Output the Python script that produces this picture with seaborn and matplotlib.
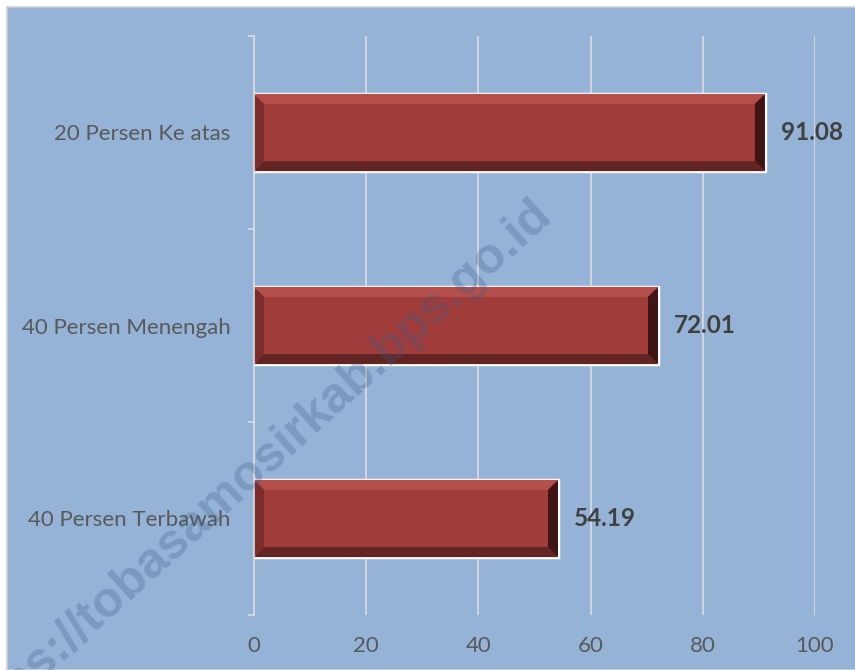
import matplotlib
matplotlib.use("Agg")
import matplotlib.pyplot as plt
from matplotlib.patches import Rectangle, Polygon
import seaborn as sns
import pandas as pd

# data
categories = ["20 Persen Ke atas", "40 Persen Menengah", "40 Persen Terbawah"]
values = [91.08, 72.01, 54.19]
x_ticks = [0, 20, 40, 60, 80, 100]

BG = "#95B3D7"
FACE = "#A03D3B"
GRID = "#DCDCDC"

sns.set_style("white")
plt.rcParams["font.family"] = ["Lato", "DejaVu Sans"]

df = pd.DataFrame({"kelompok": categories, "nilai": values})

fig = plt.figure(figsize=(8.55, 6.70), dpi=100, facecolor="white")
fig.patches.append(Rectangle((7 / 855, 0), 1, 1 - 7 / 670, transform=fig.transFigure,
                             facecolor=BG, edgecolor="#D0D0D0", linewidth=1.2, zorder=-10))
ax = fig.add_axes([254 / 855, 1 - 615 / 670, (815 - 254) / 855, (615 - 36) / 670])
ax.set_facecolor("none")

sns.barplot(data=df, x="nilai", y="kelompok", order=categories, color=FACE,
            saturation=1, width=0.4, edgecolor="white", linewidth=2.5, ax=ax, zorder=3)

ax.set_xlim(0, 100)
ax.set_ylim(2.5, -0.5)
ax.set_xticks(x_ticks)
ax.set_xticklabels([str(t) for t in x_ticks])
ax.grid(axis="x", color=GRID, linewidth=1.2, zorder=0)
ax.grid(axis="y", visible=False)
for s in ["top", "right", "bottom"]:
    ax.spines[s].set_visible(False)
ax.spines["left"].set_color(GRID)
ax.spines["left"].set_linewidth(1.2)
ax.spines["left"].set_zorder(4)

ax.set_yticks([-0.5, 0.5, 1.5, 2.5], minor=True)
ax.tick_params(axis="y", which="minor", left=True, length=4.5, color=GRID, width=1.2,
               direction="out")
ax.tick_params(axis="y", which="major", left=False, length=0, pad=17, labelsize=16,
               labelcolor="#595959")
ax.tick_params(axis="x", which="major", length=0, pad=15, labelsize=16, labelcolor="#595959")
ax.set_xlabel("")
ax.set_ylabel("")

# bevel effect on each bar
ax_w_px = (815 - 254)
ax_h_px = (615 - 36)
bx = 10 / ax_w_px * 100
by = 10 / ax_h_px * 3
for p in ax.patches:
    x0, y0 = p.get_x(), p.get_y()
    x1, y1 = x0 + p.get_width(), y0 + p.get_height()
    # y axis is inverted: y0 is the top edge on screen
    top = Polygon([(x0, y0), (x1, y0), (x1 - bx, y0 + by), (x0 + bx, y0 + by)], closed=True,
                  facecolor="#B44F4C", edgecolor="none", zorder=3.5)
    bottom = Polygon([(x0, y1), (x1, y1), (x1 - bx, y1 - by), (x0 + bx, y1 - by)], closed=True,
                     facecolor="#632524", edgecolor="none", zorder=3.5)
    left = Polygon([(x0, y0), (x0 + bx, y0 + by), (x0 + bx, y1 - by), (x0, y1)], closed=True,
                   facecolor="#7A2D2B", edgecolor="none", zorder=3.6)
    right = Polygon([(x1, y0), (x1 - bx, y0 + by), (x1 - bx, y1 - by), (x1, y1)], closed=True,
                    facecolor="#3E1514", edgecolor="none", zorder=3.6)
    for poly in (top, bottom, left, right):
        ax.add_patch(poly)

for i, v in enumerate(values):
    ax.text(v + 2.8, i, f"{v:.2f}", va="center", ha="left", fontsize=17.5,
            fontweight="bold", color="#404040", zorder=5)

# watermark
fig.text(545 / 855, 1 - 207 / 670, "https://tobasamosirkab.bps.go.id", rotation=42,
         rotation_mode="anchor", ha="right", va="center", fontsize=36, fontweight="bold",
         family="Liberation Sans", color="#3A5A85", alpha=0.28, zorder=20)

fig.savefig("out.png", dpi=100, facecolor="white")
